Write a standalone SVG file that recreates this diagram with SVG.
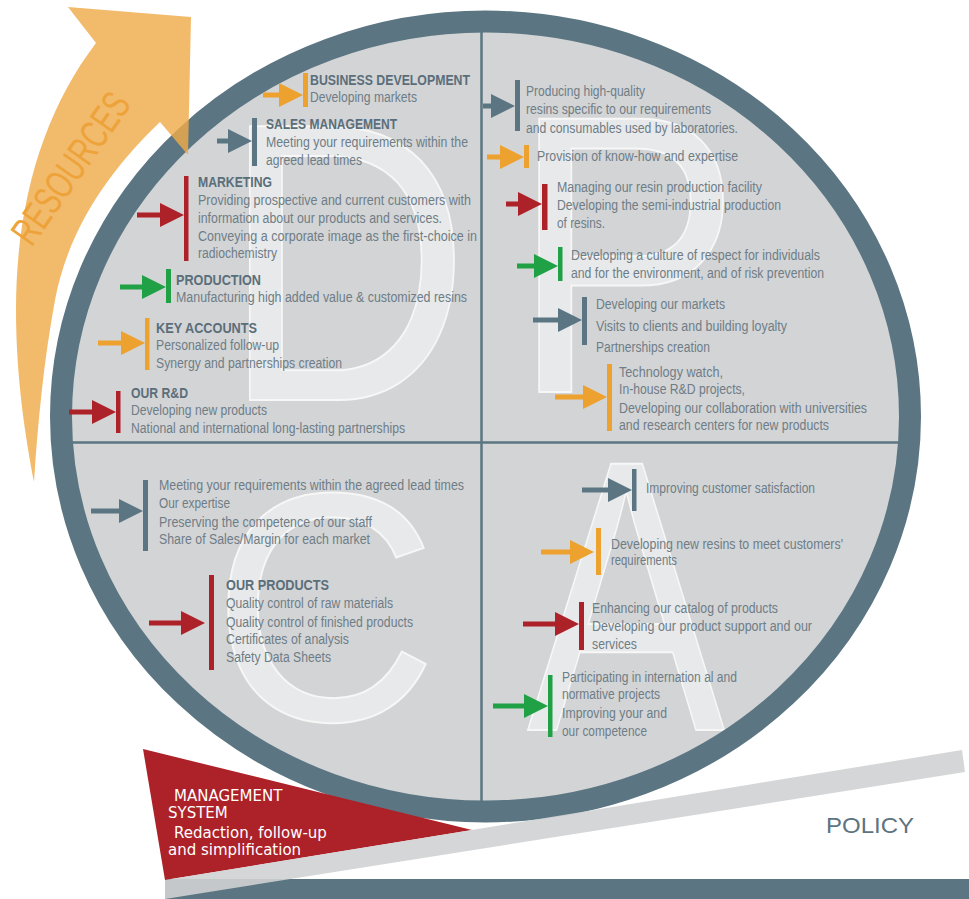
<svg xmlns="http://www.w3.org/2000/svg" width="969" height="899" viewBox="0 0 969 899">
<defs>
<style>
.t{font-family:"Liberation Sans",Arial,sans-serif;font-size:14px;fill:#6e7d86}
.h{font-family:"Liberation Sans",Arial,sans-serif;font-size:14px;font-weight:bold;fill:#5a6e7a}
.big{font-family:"Liberation Sans",Arial,sans-serif;fill:#e8e9ea;stroke:#f7f7f7;stroke-width:2;text-anchor:middle}
.m{font-family:"DejaVu Sans",Verdana,sans-serif;font-size:15px;fill:#ffffff}
.red{fill:#ad2129}.org{fill:#eda12e}.grn{fill:#21a145}.sl{fill:#5b7682}
.ar{stroke-width:5;fill:none}
.ar.red{stroke:#ad2129;marker-end:url(#ah-red)}
.ar.org{stroke:#eda12e;marker-end:url(#ah-org)}
.ar.grn{stroke:#21a145;marker-end:url(#ah-grn)}
.ar.sl{stroke:#5b7682;marker-end:url(#ah-sl)}
.ar.red,.ar.org,.ar.grn,.ar.sl{fill:none}
</style>
<marker id="ah-red" markerUnits="userSpaceOnUse" markerWidth="24" markerHeight="24" refX="0" refY="12" orient="auto" viewBox="0 0 24 24"><path d="M0,0 L24,12 L0,24 Z" fill="#ad2129"/></marker>
<marker id="ah-org" markerUnits="userSpaceOnUse" markerWidth="24" markerHeight="24" refX="0" refY="12" orient="auto" viewBox="0 0 24 24"><path d="M0,0 L24,12 L0,24 Z" fill="#eda12e"/></marker>
<marker id="ah-grn" markerUnits="userSpaceOnUse" markerWidth="24" markerHeight="24" refX="0" refY="12" orient="auto" viewBox="0 0 24 24"><path d="M0,0 L24,12 L0,24 Z" fill="#21a145"/></marker>
<marker id="ah-sl" markerUnits="userSpaceOnUse" markerWidth="24" markerHeight="24" refX="0" refY="12" orient="auto" viewBox="0 0 24 24"><path d="M0,0 L24,12 L0,24 Z" fill="#5b7682"/></marker>
</defs>
<rect width="969" height="899" fill="#ffffff"/>

<g id="cycle">
<ellipse cx="485.5" cy="416.5" rx="424.5" ry="395" fill="#d3d4d6"/>
<text class="big" font-size="398" transform="translate(346,400) scale(0.866,1)">D</text>
<text class="big" font-size="397" transform="translate(626,392) scale(0.87,1)">P</text>
<text class="big" font-size="326" transform="translate(325,720) scale(0.956,1)">C</text>
<text class="big" font-size="387" transform="translate(626,730) scale(0.765,1)">A</text>
<line x1="481.5" y1="20" x2="481.5" y2="812" stroke="#5b7682" stroke-width="2.5"/>
<line x1="60" y1="442.5" x2="912" y2="442.5" stroke="#5b7682" stroke-width="2.5"/>
<ellipse cx="485.5" cy="416.5" rx="424.5" ry="395" fill="none" stroke="#5b7682" stroke-width="22"/>
</g>

<g id="connectors">
<line class="ar org" x1="263" y1="95" x2="279" y2="95"/>
<line class="ar sl" x1="217" y1="141" x2="228" y2="141"/>
<line class="ar red" x1="137" y1="215" x2="160" y2="215"/>
<line class="ar grn" x1="120" y1="287" x2="142" y2="287"/>
<line class="ar org" x1="98" y1="343" x2="121" y2="343"/>
<line class="ar red" x1="69" y1="412" x2="92" y2="412"/>
<line class="ar sl" x1="483" y1="106" x2="491" y2="106"/>
<line class="ar org" x1="487" y1="157" x2="500" y2="157"/>
<line class="ar red" x1="506" y1="204" x2="518" y2="204"/>
<line class="ar grn" x1="517" y1="266" x2="534" y2="266"/>
<line class="ar sl" x1="533" y1="320" x2="558" y2="320"/>
<line class="ar org" x1="555" y1="397" x2="583" y2="397"/>
<line class="ar sl" x1="91" y1="511" x2="119" y2="511"/>
<line class="ar red" x1="149" y1="623" x2="181" y2="623"/>
<line class="ar sl" x1="582" y1="490" x2="608" y2="490"/>
<line class="ar org" x1="541" y1="552" x2="570" y2="552"/>
<line class="ar red" x1="523" y1="624" x2="555" y2="624"/>
<line class="ar grn" x1="493" y1="706" x2="524" y2="706"/>
</g>

<g id="business-development">
<rect class="org" x="303" y="73" width="5" height="34"/>
<text class="h" x="310" y="85" textLength="160" lengthAdjust="spacingAndGlyphs">BUSINESS DEVELOPMENT</text>
<text class="t" x="310" y="102" textLength="107" lengthAdjust="spacingAndGlyphs">Developing markets</text>
</g>
<g id="sales-management">
<rect class="sl" x="252" y="118" width="5" height="48"/>
<text class="h" x="266" y="129" textLength="131" lengthAdjust="spacingAndGlyphs">SALES MANAGEMENT</text>
<text class="t" x="266" y="147" textLength="202" lengthAdjust="spacingAndGlyphs">Meeting your requirements within the</text>
<text class="t" x="266" y="165" textLength="96" lengthAdjust="spacingAndGlyphs">agreed lead times</text>
</g>
<g id="marketing">
<rect class="red" x="184" y="176" width="4.5" height="85"/>
<text class="h" x="198" y="187" textLength="74" lengthAdjust="spacingAndGlyphs">MARKETING</text>
<text class="t" x="198" y="205" textLength="273" lengthAdjust="spacingAndGlyphs">Providing prospective and current customers with</text>
<text class="t" x="198" y="223" textLength="244" lengthAdjust="spacingAndGlyphs">information about our products and services.</text>
<text class="t" x="198" y="241" textLength="279" lengthAdjust="spacingAndGlyphs">Conveying a corporate image as the first-choice in</text>
<text class="t" x="198" y="258" textLength="79" lengthAdjust="spacingAndGlyphs">radiochemistry</text>
</g>
<g id="production">
<rect class="grn" x="166" y="269" width="5" height="34"/>
<text class="h" x="176" y="285" textLength="85" lengthAdjust="spacingAndGlyphs">PRODUCTION</text>
<text class="t" x="176" y="302" textLength="291" lengthAdjust="spacingAndGlyphs">Manufacturing high added value &amp; customized resins</text>
</g>
<g id="key-accounts">
<rect class="org" x="145" y="318" width="4.5" height="52"/>
<text class="h" x="156" y="333" textLength="101" lengthAdjust="spacingAndGlyphs">KEY ACCOUNTS</text>
<text class="t" x="156" y="350" textLength="123" lengthAdjust="spacingAndGlyphs">Personalized follow-up</text>
<text class="t" x="156" y="368" textLength="186" lengthAdjust="spacingAndGlyphs">Synergy and partnerships creation</text>
</g>
<g id="our-rd">
<rect class="red" x="116" y="391" width="4.5" height="42"/>
<text class="h" x="131" y="398" textLength="57" lengthAdjust="spacingAndGlyphs">OUR R&amp;D</text>
<text class="t" x="131" y="415" textLength="136" lengthAdjust="spacingAndGlyphs">Developing new products</text>
<text class="t" x="131" y="433" textLength="274" lengthAdjust="spacingAndGlyphs">National and international long-lasting partnerships</text>
</g>

<g id="p-resins">
<rect class="sl" x="515" y="80" width="5" height="51"/>
<text class="t" x="526" y="96" textLength="119" lengthAdjust="spacingAndGlyphs">Producing high-quality</text>
<text class="t" x="526" y="114" textLength="185" lengthAdjust="spacingAndGlyphs">resins specific to our requirements</text>
<text class="t" x="526" y="133" textLength="212" lengthAdjust="spacingAndGlyphs">and consumables used by laboratories.</text>
</g>
<g id="p-knowhow">
<rect class="org" x="524" y="145" width="5" height="23"/>
<text class="t" x="537" y="161" textLength="201" lengthAdjust="spacingAndGlyphs">Provision of know-how and expertise</text>
</g>
<g id="p-facility">
<rect class="red" x="542" y="184" width="5.5" height="46"/>
<text class="t" x="557" y="192" textLength="205" lengthAdjust="spacingAndGlyphs">Managing our resin production facility</text>
<text class="t" x="557" y="210" textLength="224" lengthAdjust="spacingAndGlyphs">Developing the semi-industrial production</text>
<text class="t" x="557" y="228" textLength="48" lengthAdjust="spacingAndGlyphs">of resins.</text>
</g>
<g id="p-culture">
<rect class="grn" x="558" y="247" width="4.5" height="34"/>
<text class="t" x="571" y="260" textLength="249" lengthAdjust="spacingAndGlyphs">Developing a culture of respect for individuals</text>
<text class="t" x="571" y="278" textLength="253" lengthAdjust="spacingAndGlyphs">and for the environment, and of risk prevention</text>
</g>
<g id="p-markets">
<rect class="sl" x="582" y="297" width="5" height="48"/>
<text class="t" x="596" y="309" textLength="129" lengthAdjust="spacingAndGlyphs">Developing our markets</text>
<text class="t" x="596" y="331" textLength="191" lengthAdjust="spacingAndGlyphs">Visits to clients and building loyalty</text>
<text class="t" x="596" y="352" textLength="114" lengthAdjust="spacingAndGlyphs">Partnerships creation</text>
</g>
<g id="p-technology">
<rect class="org" x="607" y="364" width="5" height="67"/>
<text class="t" x="619" y="377" textLength="104" lengthAdjust="spacingAndGlyphs">Technology watch,</text>
<text class="t" x="619" y="394" textLength="126" lengthAdjust="spacingAndGlyphs">In-house R&amp;D projects,</text>
<text class="t" x="619" y="413" textLength="248" lengthAdjust="spacingAndGlyphs">Developing our collaboration with universities</text>
<text class="t" x="619" y="430" textLength="210" lengthAdjust="spacingAndGlyphs">and research centers for new products</text>
</g>

<g id="c-indicators">
<rect class="sl" x="143" y="480" width="5" height="71"/>
<text class="t" x="159" y="490" textLength="305" lengthAdjust="spacingAndGlyphs">Meeting your requirements within the agreed lead times</text>
<text class="t" x="159" y="508" textLength="71" lengthAdjust="spacingAndGlyphs">Our expertise</text>
<text class="t" x="159" y="527" textLength="213" lengthAdjust="spacingAndGlyphs">Preserving the competence of our staff</text>
<text class="t" x="159" y="544" textLength="211" lengthAdjust="spacingAndGlyphs">Share of Sales/Margin for each market</text>
</g>
<g id="c-products">
<rect class="red" x="209" y="575" width="5" height="95"/>
<text class="h" x="226" y="590" textLength="103" lengthAdjust="spacingAndGlyphs">OUR PRODUCTS</text>
<text class="t" x="226" y="608" textLength="167" lengthAdjust="spacingAndGlyphs">Quality control of raw materials</text>
<text class="t" x="226" y="627" textLength="187" lengthAdjust="spacingAndGlyphs">Quality control of finished products</text>
<text class="t" x="226" y="644" textLength="123" lengthAdjust="spacingAndGlyphs">Certificates of analysis</text>
<text class="t" x="226" y="662" textLength="105" lengthAdjust="spacingAndGlyphs">Safety Data Sheets</text>
</g>

<g id="a-satisfaction">
<rect class="sl" x="632" y="469" width="4.5" height="42"/>
<text class="t" x="646" y="493" textLength="169" lengthAdjust="spacingAndGlyphs">Improving customer satisfaction</text>
</g>
<g id="a-resins">
<rect class="org" x="596" y="528" width="5" height="47"/>
<text class="t" x="611" y="549" textLength="232" lengthAdjust="spacingAndGlyphs">Developing new resins to meet customers'</text>
<text class="t" x="611" y="565" textLength="66" lengthAdjust="spacingAndGlyphs">requirements</text>
</g>
<g id="a-catalog">
<rect class="red" x="579" y="602" width="5" height="48"/>
<text class="t" x="592" y="613" textLength="186" lengthAdjust="spacingAndGlyphs">Enhancing our catalog of products</text>
<text class="t" x="592" y="631" textLength="220" lengthAdjust="spacingAndGlyphs">Developing our product support and our</text>
<text class="t" x="592" y="649" textLength="45" lengthAdjust="spacingAndGlyphs">services</text>
</g>
<g id="a-projects">
<rect class="grn" x="548" y="675" width="4.5" height="62"/>
<text class="t" x="562" y="682" textLength="175" lengthAdjust="spacingAndGlyphs">Participating in internation al and</text>
<text class="t" x="562" y="699" textLength="98" lengthAdjust="spacingAndGlyphs">normative projects</text>
<text class="t" x="562" y="718" textLength="105" lengthAdjust="spacingAndGlyphs">Improving your and</text>
<text class="t" x="562" y="736" textLength="85" lengthAdjust="spacingAndGlyphs">our competence</text>
</g>

<g id="resources">
<path d="M68,7 L191,17 L188,155 L160,122 C120,160 70,220 55,300 C44,360 38,420 34,482 C26,440 16,380 16,310 C16,200 45,110 96,43 Z" fill="#efab4a" fill-opacity="0.82"/>
<text x="0" y="0" transform="translate(82,176) rotate(-55)" font-family="Liberation Sans, Arial, sans-serif" font-size="40" fill="#eda33a" text-anchor="middle" textLength="175" lengthAdjust="spacingAndGlyphs">RESOURCES</text>
</g>

<g id="policy">
<rect x="165" y="879" width="804" height="20" fill="#5b7682"/>
<polygon points="143,749 472,830 165,880" fill="#ad2129"/>
<polygon points="165,880 962,750 965,772 165,899" fill="#cfd1d3" fill-opacity="0.9"/>
<text class="m" x="174" y="801">MANAGEMENT</text>
<text class="m" x="168" y="818">SYSTEM</text>
<text class="m" x="174" y="838">Redaction, follow-up</text>
<text class="m" x="168" y="855">and simplification</text>
<text x="826" y="833" font-family="Liberation Sans, Arial, sans-serif" font-size="22" fill="#5d7480" textLength="88" lengthAdjust="spacingAndGlyphs">POLICY</text>
</g>
</svg>
